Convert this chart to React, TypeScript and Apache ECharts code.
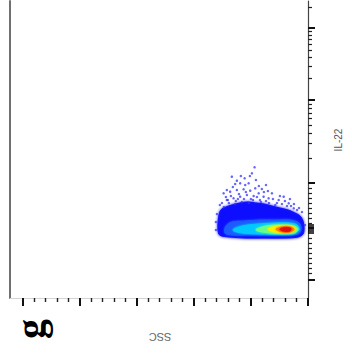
import React, { useEffect, useRef } from 'react';
import * as echarts from 'echarts';

// SSC axis (thousands), shown reversed
const xMajorTicks = [0, 50, 100, 150, 200, 250];
const xMinorTicks = [10, 20, 30, 40, 60, 70, 80, 90, 110, 120, 130, 140, 160, 170, 180, 190, 210, 220, 230, 240];
// IL-22 axis (display channel, biexponential)
const yMajorTicks = [18, 115, 198, 270];
const yZeroTicks = [65, 67, 69, 70, 71, 73];
const yMinorTicks = [
  291, 267, 263, 259, 254, 248, 241, 232, 220,
  194, 190, 185, 180, 173, 165, 155, 140,
  110, 105, 100, 95, 90, 85, 80, 75,
  60, 55, 50, 45, 40, 35, 30, 25,
];

// density contours of the main population [SSC, IL-22 channel]
const blobBlue = [
  [78.1, 64], [78.9, 72], [78.1, 82], [76.3, 88], [71.9, 91], [66.7, 93], [59.6, 95], [52.6, 96],
  [45.6, 95], [38.6, 94], [31.6, 92], [24.6, 90], [17.5, 88], [11.4, 85], [7.0, 82], [4.4, 77],
  [3.5, 70], [4.4, 64], [8.8, 61], [20.2, 60], [37.7, 60], [55.3, 60], [68.4, 61], [75.4, 62],
];
const blobLightBlue = [
  [72.8, 65], [71.9, 72], [66.7, 76], [55.3, 77], [42.1, 78], [28.9, 78], [15.8, 78], [7.9, 75],
  [6.1, 69], [8.8, 64], [24.6, 63], [50.9, 63], [66.7, 63],
];
const blobCyan = [
  [65.8, 68], [57.9, 72], [43.9, 74], [28.9, 75], [15.8, 75], [9.6, 73], [7.9, 68], [14, 64],
  [37.7, 64], [57.9, 65],
];
const blobGreen = [[45.6, 68], [36.8, 72], [22.8, 73], [12.3, 72], [8.8, 69], [12.3, 65], [33.3, 65]];
const blobYellow = [[35.1, 69], [26.3, 72], [14.9, 72], [10.5, 69], [14.9, 66], [28.9, 66]];
const blobOrange = [[28.1, 69], [21.1, 71], [13.2, 70], [12.3, 68], [17.5, 66], [25.4, 67]];
const blobRed = [[24.6, 69], [19.3, 70.5], [14.9, 69.5], [15.8, 67], [21.9, 67]];

const layerColors = ['#0a0aff', '#1a5cff', '#00c8ff', '#66ff88', '#ffee00', '#ff8000', '#e01010'];
const layers = [blobBlue, blobLightBlue, blobCyan, blobGreen, blobYellow, blobOrange, blobRed];

// sparse events above the population
const sparseEvents = [
  [46.8, 130.7], [49.1, 124.7], [55.5, 119.7], [66.7, 121.3], [62.3, 117.3], [63.8, 114], [59.4, 114.7],
  [55.0, 113], [52.0, 114.7], [73.9, 104.7], [68.2, 106.3], [62.3, 108], [56.4, 108.7], [50.6, 107.3],
  [46.2, 109.7], [71.1, 98], [65.2, 99.7], [59.4, 101.3], [53.5, 103], [47.6, 102], [43.2, 104.7],
  [38.9, 101.3], [34.5, 99.7], [31.6, 104.7], [25.7, 98], [21.3, 101.3], [16.9, 94.7], [12.5, 89.7],
  [28.7, 93], [75.4, 95], [69.3, 95], [63.2, 97], [56.1, 99], [50, 99], [42.1, 98], [36.8, 97],
  [22.8, 94], [14.9, 92], [9.6, 88], [40.4, 109], [35.1, 107], [60.5, 104], [71.9, 101],
  [80.7, 68], [80.7, 76], [79.8, 84], [2.6, 73],
  [77.2, 93], [73.7, 91], [70.2, 98], [67.5, 102], [64, 94], [61.4, 99], [57.9, 96], [54.4, 106],
  [51.8, 95], [48.2, 98], [44.7, 101], [41.2, 96], [38.6, 106], [34.2, 95], [30.7, 99], [27.2, 95],
  [24.6, 102], [20.2, 97], [18.4, 92], [15.8, 99], [12.3, 94], [7.9, 90], [5.3, 86], [45.6, 118],
  [43, 112], [65.8, 111], [71.1, 108], [36.8, 113], [50.9, 122], [58.8, 122],
];

const X_MAX = 261;
const Y_MAX = 297;

export default function App() {
  const ref = useRef<HTMLDivElement>(null);
  useEffect(() => {
    document.body.style.margin = '0';
    if (!ref.current) return;
    const chart = echarts.init(ref.current, null, { renderer: 'svg' });
    const xBase = { type: 'value', min: 0, max: X_MAX, inverse: true, gridIndex: 0, splitLine: { show: false }, axisLabel: { show: false } };
    const yBase = { type: 'value', min: 0, max: Y_MAX, gridIndex: 0, splitLine: { show: false }, axisLabel: { show: false } };
    chart.setOption({
      animation: false,
      backgroundColor: '#ffffff',
      grid: { left: 10, right: 44, top: 1, bottom: 62, containLabel: false },
      xAxis: [
        { ...xBase, position: 'bottom', axisLine: { show: true, lineStyle: { color: '#333', width: 1 } },
          axisTick: { show: true, customValues: xMajorTicks, length: 8, lineStyle: { color: '#111', width: 2 } } },
        { ...xBase, position: 'bottom', axisLine: { show: false },
          axisTick: { show: true, customValues: xMinorTicks, length: 4, lineStyle: { color: '#222', width: 1.4 } } },
        { ...xBase, position: 'top', axisLine: { show: true, lineStyle: { color: '#d4d4d4', width: 1 } }, axisTick: { show: false } },
      ],
      yAxis: [
        { ...yBase, position: 'right', axisLine: { show: true, lineStyle: { color: '#444', width: 1.2 } },
          axisTick: { show: true, customValues: yMajorTicks, length: 7, lineStyle: { color: '#111', width: 2 } } },
        { ...yBase, position: 'right', axisLine: { show: false },
          axisTick: { show: true, customValues: yMinorTicks, length: 4, lineStyle: { color: '#222', width: 1.2 } } },
        { ...yBase, position: 'right', axisLine: { show: false },
          axisTick: { show: true, customValues: yZeroTicks, length: 6, lineStyle: { color: '#000', width: 1.5 } } },
        { ...yBase, position: 'left', axisLine: { show: true, lineStyle: { color: '#707070', width: 2 } }, axisTick: { show: false } },
      ],
      series: [
        {
          type: 'custom',
          xAxisIndex: 0,
          yAxisIndex: 0,
          clip: true,
          data: layers.map((l) => l[0]),
          renderItem: (params: any, api: any) => {
            const i = params.dataIndex;
            const pts = layers[i].map((p) => api.coord(p));
            return {
              type: 'polygon',
              shape: { points: pts, smooth: 0.35 },
              style: {
                fill: layerColors[i],
                stroke: layerColors[i],
                lineWidth: 1,
                opacity: 0.95,
                shadowBlur: i === 0 ? 3 : 2,
                shadowColor: layerColors[i],
              },
            };
          },
          z: 2,
        },
        {
          type: 'scatter',
          xAxisIndex: 0,
          yAxisIndex: 0,
          data: sparseEvents,
          symbol: 'circle',
          symbolSize: 2.5,
          itemStyle: { color: '#3030ff', opacity: 0.75 },
          z: 3,
        },
      ],
      graphic: [
        { type: 'text', x: 160, y: 337, rotation: Math.PI, style: { text: 'SSC', fill: '#666', font: '11px "Liberation Sans", Arial, sans-serif', align: 'center', verticalAlign: 'middle' } },
        { type: 'text', x: 338, y: 140, rotation: Math.PI / 2, style: { text: 'IL-22', fill: '#555', font: '10px "Liberation Sans", Arial, sans-serif', align: 'center', verticalAlign: 'middle' } },
        { type: 'text', x: 30, y: 329, rotation: Math.PI / 2, style: { text: 'g', fill: '#000', font: 'bold 40px "Liberation Serif", "Times New Roman", serif', align: 'center', verticalAlign: 'middle' } },
      ],
    });
    return () => chart.dispose();
  }, []);
  return <div ref={ref} style={{ width: 352, height: 360 }} />;
}
